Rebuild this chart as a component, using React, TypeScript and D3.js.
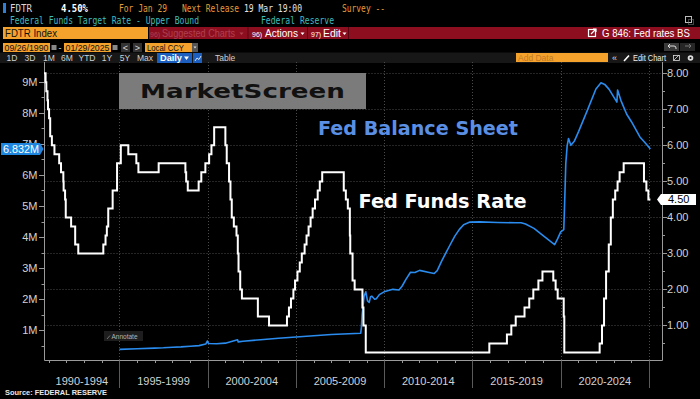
import React from "react";
import * as d3 from "d3";

// ---------- DATA ----------
const rateDates = [
  "1990-09-26","1990-10-29","1990-11-13","1990-12-07","1990-12-18","1991-01-09","1991-02-01","1991-03-08",
  "1991-04-30","1991-08-06","1991-09-13","1991-10-31","1991-11-06","1991-12-06","1991-12-20","1992-04-09",
  "1992-07-02","1992-09-04","1994-02-04","1994-03-22","1994-04-18","1994-05-17","1994-08-16","1994-11-15",
  "1995-02-01","1995-07-06","1995-12-19","1996-01-31","1997-03-25","1998-09-29","1998-10-15","1998-11-17",
  "1999-06-30","1999-08-24","1999-11-16","2000-02-02","2000-03-21","2000-05-16","2001-01-03","2001-01-31",
  "2001-03-20","2001-04-18","2001-05-15","2001-06-27","2001-08-21","2001-09-17","2001-10-02","2001-11-06",
  "2001-12-11","2002-11-06","2003-06-25","2004-06-30","2004-08-10","2004-09-21","2004-11-10","2004-12-14",
  "2005-02-02","2005-03-22","2005-05-03","2005-06-30","2005-08-09","2005-09-20","2005-11-01","2005-12-13",
  "2006-01-31","2006-03-28","2006-05-10","2006-06-29","2007-09-18","2007-10-31","2007-12-11","2008-01-22",
  "2008-01-30","2008-03-18","2008-04-30","2008-10-08","2008-10-29","2008-12-16","2015-12-16","2016-12-14",
  "2017-03-15","2017-06-14","2017-12-13","2018-03-21","2018-06-13","2018-09-26","2018-12-19","2019-07-31",
  "2019-09-18","2019-10-30","2020-03-03","2020-03-15","2022-03-16","2022-05-04","2022-06-15","2022-07-27",
  "2022-09-21","2022-11-02","2022-12-14","2023-02-01","2023-03-22","2023-05-03","2023-07-26","2024-09-18",
  "2024-11-07","2024-12-18","2025-01-29",
];
const rateValues = [
  8.0,7.75,7.5,7.25,7.0,6.75,6.25,6.0,
  5.75,5.5,5.25,5.0,4.75,4.5,4.0,3.75,
  3.25,3.0,3.25,3.5,3.75,4.25,4.75,5.5,
  6.0,5.75,5.5,5.25,5.5,5.25,5.0,4.75,
  5.0,5.25,5.5,5.75,6.0,6.5,6.0,5.5,
  5.0,4.5,4.0,3.75,3.5,3.0,2.5,2.0,
  1.75,1.25,1.0,1.25,1.5,1.75,2.0,2.25,
  2.5,2.75,3.0,3.25,3.5,3.75,4.0,4.25,
  4.5,4.75,5.0,5.25,4.75,4.5,4.25,3.5,
  3.0,2.25,2.0,1.5,1.0,0.25,0.5,0.75,
  1.0,1.25,1.5,1.75,2.0,2.25,2.5,2.25,
  2.0,1.75,1.25,0.25,0.5,1.0,1.75,2.5,
  3.25,4.0,4.5,4.75,5.0,5.25,5.5,5.0,
  4.75,4.5,4.5,
];

// Fed balance sheet, millions of millions (i.e. "M" on the left axis)
const bsDates = [
  "1995-01-04","1996-01-03","1997-01-01","1997-07-01","1998-01-07","1998-07-01","1999-01-06","1999-07-07",
  "1999-11-24","1999-12-29","2000-01-19","2000-07-05","2001-01-03","2001-09-12","2001-09-26","2002-01-02",
  "2003-01-01","2004-01-07","2005-01-05","2006-01-04","2007-01-03","2008-01-02","2008-09-03","2008-09-17",
  "2008-10-01","2008-10-22","2008-11-12","2008-12-17","2009-01-21","2009-02-25","2009-03-25","2009-04-22",
  "2009-05-20","2009-06-17","2009-07-22","2009-09-23","2009-12-30","2010-06-30","2010-11-03","2011-01-05",
  "2011-03-30","2011-06-29","2011-09-28","2012-01-04","2012-06-27","2012-10-31","2013-01-02","2013-04-03",
  "2013-07-03","2013-10-02","2014-01-01","2014-04-02","2014-07-02","2014-10-29","2015-06-03","2016-06-01",
  "2017-06-07","2017-10-04","2018-01-03","2018-06-27","2019-01-02","2019-05-01","2019-08-28","2019-10-30",
  "2020-01-01","2020-03-04","2020-03-25","2020-04-15","2020-05-13","2020-06-10","2020-07-29","2020-10-07",
  "2021-01-06","2021-06-30","2021-12-29","2022-04-13","2022-06-29","2022-09-28","2023-03-08","2023-03-22",
  "2023-05-31","2023-09-27","2024-01-03","2024-06-26","2024-10-02","2025-01-29",
];
const bsValues = [
  0.39,0.41,0.43,0.44,0.46,0.47,0.49,0.51,
  0.56,0.66,0.58,0.57,0.59,0.70,0.63,0.65,
  0.70,0.75,0.79,0.83,0.87,0.89,0.91,1.10,
  1.50,1.80,2.10,2.24,1.95,1.90,2.08,2.10,
  2.05,2.00,2.02,2.15,2.24,2.32,2.30,2.42,
  2.65,2.87,2.86,2.93,2.87,2.83,2.92,3.23,
  3.50,3.77,4.03,4.24,4.40,4.48,4.49,4.47,
  4.46,4.46,4.42,4.28,4.05,3.90,3.76,3.95,
  4.17,4.24,5.25,6.37,6.93,7.17,6.95,7.08,
  7.40,8.06,8.76,8.96,8.91,8.75,8.34,8.73,
  8.39,7.95,7.71,7.22,7.05,6.832,
];

const leftTicks = [1, 2, 3, 4, 5, 6, 7, 8, 9];
const leftTickLabels = ["1M", "2M", "3M", "4M", "5M", "6M", "7M", "8M", "9M"];
const rightTicks = [1, 2, 3, 4, 5, 6, 7, 8];
const rightTickLabels = ["1.00", "2.00", "3.00", "4.00", "5.00", "6.00", "7.00", "8.00"];
const periodStarts = ["1990-09-26", "1995-01-01", "2000-01-01", "2005-01-01", "2010-01-01", "2015-01-01", "2020-01-01", "2025-01-01"];
const periodLabels = ["1990-1994", "1995-1999", "2000-2004", "2005-2009", "2010-2014", "2015-2019", "2020-2024"];
const startDate = "1990-09-26";
const endDate = "2025-01-29";
const lastBS = "6.832M";
const lastRate = "4.50";

// ---------- LAYOUT ----------
const W = 700, H = 399;
const PL = 44.5, PR = 662.5, PT = 62, PB = 360.5;
const parse = d3.utcParse("%Y-%m-%d");

const SANS = "'Liberation Sans', Arial, sans-serif";
const MONO = "'DejaVu Sans Mono', monospace";
const ORANGE = "#f4a22b";
const TXT_OR = "#e59a3a";
const TEAL = "#3fbcbf";

export default function App() {
  const x = d3.scaleUtc().domain([parse(startDate)!, parse(endDate)!]).range([44, 650.4]);
  const yL = d3.scaleLinear().domain([0, 9]).range([361.5, 81.6]);
  const yR = d3.scaleLinear().domain([0, 8]).range([361.5, 73.3]);

  const rateData = rateDates.map((d, i) => ({ d: parse(d)!, v: rateValues[i] }));
  const bsData = bsDates.map((d, i) => ({ d: parse(d)!, v: bsValues[i] }));

  const rateLine = d3.line<{ d: Date; v: number }>().x(p => x(p.d)).y(p => yR(p.v)).curve(d3.curveStepAfter);
  const bsLine = d3.line<{ d: Date; v: number }>().x(p => x(p.d)).y(p => yL(p.v));

  const years = d3.utcYear.range(parse("1991-01-01")!, parse("2025-06-01")!);
  const fiveYears = periodStarts.slice(1).map(s => x(parse(s)!));
  const bandEdges = periodStarts.map(s => Math.max(PL, x(parse(s)!)));

  const minorL = d3.range(0.5, 9.01, 0.5);
  const minorR = d3.range(0.5, 8.01, 0.5);

  const yBS = yL(6.832);
  const yRate = yR(4.5);

  return (
    <svg width={W} height={H} style={{ position: "absolute", left: 0, top: 0, background: "#000" }} xmlns="http://www.w3.org/2000/svg">
      <rect x={0} y={0} width={W} height={H} fill="#000" />

      {/* ---------- Header row 1 ---------- */}
      <rect x={3} y={3} width={3} height={10} fill="#2f7fd6" />
      <g fontFamily={MONO} fontSize={10.5}>
        <text x={10} y={12} fill="#d8d8d8" textLength={22} lengthAdjust="spacingAndGlyphs">FDTR</text>
        <text x={61} y={12} fill="#fff" fontWeight="bold" textLength={27} lengthAdjust="spacingAndGlyphs">4.50%</text>
        <text x={119} y={12} fill={TXT_OR} textLength={48} lengthAdjust="spacingAndGlyphs">For Jan 29</text>
        <text x={182} y={12} fill={TXT_OR} textLength={57} lengthAdjust="spacingAndGlyphs">Next Release</text>
        <text x={244} y={12} fill="#e4e4e4" textLength={58} lengthAdjust="spacingAndGlyphs">19 Mar 19:00</text>
        <text x={342} y={12} fill={TXT_OR} textLength={43} lengthAdjust="spacingAndGlyphs">Survey --</text>
        {/* Row 2 */}
        <text x={10} y={24} fill={TEAL} textLength={189} lengthAdjust="spacingAndGlyphs">Federal Funds Target Rate - Upper Bound</text>
        <text x={261} y={24} fill={TEAL} textLength={73} lengthAdjust="spacingAndGlyphs">Federal Reserve</text>
      </g>
      {/* small icon top right */}
      <rect x={685.5} y={16.5} width={6} height={6} fill="none" stroke="#bbb" strokeWidth={1} />
      <rect x={688.5} y={19.5} width={5} height={5} fill="none" stroke="#888" strokeWidth={1} strokeDasharray="1,1" />

      {/* ---------- Header row 3 ---------- */}
      <rect x={3} y={27} width={145} height={12} fill={ORANGE} />
      <text x={5} y={37} fontFamily={SANS} fontSize={11} fill="#111" textLength={52} lengthAdjust="spacingAndGlyphs">FDTR Index</text>
      <rect x={149} y={27} width={551} height={12} fill="#8d0f1f" />
      <line x1={248} y1={27} x2={248} y2={39} stroke="#5a0610" />
      <line x1={307.5} y1={27} x2={307.5} y2={39} stroke="#5a0610" />
      <line x1={348.5} y1={27} x2={348.5} y2={39} stroke="#5a0610" />
      <g fontFamily={SANS} fontSize={10}>
        <text x={150} y={37} fill="#b0404f" fontSize={7}>96)</text>
        <text x={162} y={37} fill="#b0404f" textLength={73} lengthAdjust="spacingAndGlyphs">Suggested Charts</text>
        <path d="M239.5,32.5 L243.5,32.5 L241.5,35 Z" fill="#b0404f" />
        <text x={252} y={37} fill="#fff" fontSize={7}>96)</text>
        <text x={265} y={37} fill="#fff" textLength={33} lengthAdjust="spacingAndGlyphs">Actions</text>
        <path d="M300.5,32.5 L304.5,32.5 L302.5,35 Z" fill="#fff" />
        <text x={311} y={37} fill="#fff" fontSize={7}>97)</text>
        <text x={323} y={37} fill="#fff" textLength={18} lengthAdjust="spacingAndGlyphs">Edit</text>
        <path d="M342.5,32.5 L346.5,32.5 L344.5,35 Z" fill="#fff" />
        <text x={602} y={37} fill="#fff" textLength={88} lengthAdjust="spacingAndGlyphs">G 846: Fed rates BS</text>
      </g>
      <rect x={588.5} y={29.5} width={7} height={7} fill="none" stroke="#fff" strokeWidth={1.2} />
      <path d="M591,34 L596,29 M593,29 L596,29 L596,32" stroke="#fff" strokeWidth={1.2} fill="none" />

      {/* ---------- Header row 4 ---------- */}
      <g fontFamily={SANS} fontSize={9}>
        <rect x={3} y={43} width={47} height={9} fill={ORANGE} />
        <text x={4.5} y={50.5} fill="#111" textLength={44} lengthAdjust="spacingAndGlyphs">09/26/1990</text>
        <rect x={51.5} y={45} width={5} height={5} fill="#888" />
        <text x={58.5} y={50.5} fill="#ddd">-</text>
        <rect x={64} y={43} width={47} height={9} fill={ORANGE} />
        <text x={65.5} y={50.5} fill="#111" textLength={44} lengthAdjust="spacingAndGlyphs">01/29/2025</text>
        <rect x={112.5} y={45} width={5} height={5} fill="#888" />
        <rect x={121} y={43} width={9} height={9} fill="#333" />
        <text x={125.5} y={50.5} fill="#ddd" textAnchor="middle">&lt;</text>
        <rect x={133} y={43} width={9} height={9} fill="#333" />
        <text x={137.5} y={50.5} fill="#ddd" textAnchor="middle">&gt;</text>
        <rect x={145} y={43} width={47} height={9} fill={ORANGE} />
        <text x={147} y={50.5} fill="#111" textLength={37} lengthAdjust="spacingAndGlyphs">Local CCY</text>
        <rect x={192} y={43} width={6} height={9} fill="#555" />
        <path d="M193.5,46.5 L196.5,46.5 L195,48.5 Z" fill="#ddd" />
      </g>
      <rect x={664} y={43} width={15} height={8} fill="#3a3a3a" />
      <rect x={680} y={43} width={15} height={8} fill="#262626" />
      <path d="M668,46 L674,46 Q676,46 676,48 L676,49 M668,46 L670,44 M668,46 L670,48" stroke="#ddd" fill="none" strokeWidth={1} />
      <path d="M691,46 L685,46 M691,46 L689,44 M691,46 L689,48" stroke="#777" fill="none" strokeWidth={1} />

      {/* ---------- Header row 5 ---------- */}
      <rect x={0} y={52.5} width={W} height={10.5} fill="#171717" />
      <g fontFamily={SANS} fontSize={8.5} fill="#cfcfcf" textAnchor="middle">
        {[["1D", 12], ["3D", 30], ["1M", 49], ["6M", 67], ["YTD", 87], ["1Y", 107], ["5Y", 125], ["Max", 145]].map(([t, cx]) => (
          <text key={t as string} x={cx as number} y={60.5}>{t}</text>
        ))}
      </g>
      <rect x={157} y={53} width={35} height={10} fill="#1c5fbf" />
      <text x={160} y={60.8} fontFamily={SANS} fontSize={8.5} fill="#fff" fontWeight="bold" textLength={22} lengthAdjust="spacingAndGlyphs">Daily</text>
      <path d="M184,56.5 L189,56.5 L186.5,60 Z" fill="#fff" />
      <rect x={193} y={53} width={9} height={10} fill="#1c5fbf" />
      <path d="M195,61 L197,58 L199,59.5 L201,56" stroke="#fff" fill="none" strokeWidth={0.8} />
      <text x={215} y={60.8} fontFamily={SANS} fontSize={8.5} fill="#cfcfcf">Table</text>
      <rect x={516} y={53} width={92} height={9} fill={ORANGE} />
      <text x={518} y={60.5} fontFamily={SANS} fontSize={8.5} fill="#c07a28">Add Data</text>
      <text x={612} y={60.8} fontFamily={SANS} fontSize={9} fill="#ddd">«</text>
      <path d="M624,61 L629,55.5" stroke="#fff" strokeWidth={1.6} />
      <text x={633} y={60.8} fontFamily={SANS} fontSize={9} fill="#eee" textLength={33} lengthAdjust="spacingAndGlyphs">Edit Chart</text>
      <rect x={673.5} y={55.5} width={6} height={5} fill="none" stroke="#ddd" strokeWidth={0.8} />
      <path d="M674,60 L679,55" stroke="#ddd" strokeWidth={0.8} />
      <circle cx={690.5} cy={58} r={2.8} fill="#ddd" />
      <circle cx={690.5} cy={58} r={1} fill="#171717" />

      {/* ---------- Gridlines ---------- */}
      <g stroke="#4a4a4a" strokeWidth={1} strokeDasharray="1,2">
        {rightTicks.map(t => (
          <line key={"h" + t} x1={PL} x2={PR} y1={Math.round(yR(t)) + 0.5} y2={Math.round(yR(t)) + 0.5} />
        ))}
        {fiveYears.map((fx, i) => (
          <line key={"v" + i} x1={Math.round(fx) + 0.5} x2={Math.round(fx) + 0.5} y1={PT} y2={PB} />
        ))}
      </g>

      {/* ---------- MarketScreen watermark ---------- */}
      <rect x={119} y={73} width={247} height={36} fill="#7b7b7b" />
      <text x={140} y={98} fontFamily="'DejaVu Sans', Verdana, sans-serif" fontWeight="bold" fontSize={20} fill="#111"
        textLength={205} lengthAdjust="spacingAndGlyphs">MarketScreen</text>

      {/* ---------- Axes ---------- */}
      <g stroke="#9a9a9a" strokeWidth={1}>
        <line x1={PL} x2={PL} y1={PT} y2={PB} />
        <line x1={PR} x2={PR} y1={PT} y2={PB} />
        <line x1={PL} x2={PR} y1={PB} y2={PB} />
        {leftTicks.map(t => (
          <line key={"lt" + t} x1={39} x2={PL} y1={Math.round(yL(t)) + 0.5} y2={Math.round(yL(t)) + 0.5} />
        ))}
        {minorL.map(t => (
          <line key={"lm" + t} x1={41.5} x2={PL} y1={Math.round(yL(t)) + 0.5} y2={Math.round(yL(t)) + 0.5} />
        ))}
        {rightTicks.map(t => (
          <line key={"rt" + t} x1={PR} x2={667} y1={Math.round(yR(t)) + 0.5} y2={Math.round(yR(t)) + 0.5} />
        ))}
        {minorR.map(t => (
          <line key={"rm" + t} x1={PR} x2={665} y1={Math.round(yR(t)) + 0.5} y2={Math.round(yR(t)) + 0.5} />
        ))}
        {years.map((yd, i) => (
          <line key={"yt" + i} x1={Math.round(x(yd)) + 0.5} x2={Math.round(x(yd)) + 0.5} y1={PB} y2={363} />
        ))}
      </g>
      <g stroke="#5a5a5a" strokeWidth={1}>
        {fiveYears.map((fx, i) => (
          <line key={"sep" + i} x1={Math.round(fx) + 0.5} x2={Math.round(fx) + 0.5} y1={PB} y2={388} />
        ))}
      </g>
      <g fontFamily={SANS} fontSize={11} fill="#d2d2d2">
        {leftTicks.map((t, i) => (
          <text key={"ll" + t} x={37.5} y={yL(t) + 4} textAnchor="end">{leftTickLabels[i]}</text>
        ))}
        {rightTicks.map((t, i) => (
          <text key={"rl" + t} x={667} y={yR(t) + 4}>{rightTickLabels[i]}</text>
        ))}
        {periodLabels.map((l, i) => (
          <text key={"pl" + i} x={(bandEdges[i] + bandEdges[i + 1]) / 2} y={384.5} textAnchor="middle">{l}</text>
        ))}
      </g>

      {/* ---------- Annotate button ---------- */}
      <rect x={104} y={331} width={39} height={10} fill="#1e1e1e" />
      <path d="M107,339 L110,335.5" stroke="#888" strokeWidth={0.8} />
      <text x={111.5} y={338.8} fontFamily={SANS} fontSize={6.5} fill="#b5b5b5">Annotate</text>

      {/* ---------- Series ---------- */}
      <path d={bsLine(bsData) || ""} fill="none" stroke="#2a8cee" strokeWidth={1.6} strokeLinejoin="round" />
      <path d={rateLine(rateData) || ""} fill="none" stroke="#ffffff" strokeWidth={2} />

      {/* ---------- Series labels ---------- */}
      <text x={318} y={135} fontFamily="'DejaVu Sans', Verdana, sans-serif" fontWeight="bold" fontSize={20} fill="#5a8fe4"
        textLength={200} lengthAdjust="spacingAndGlyphs">Fed Balance Sheet</text>
      <text x={358.5} y={207.5} fontFamily="'DejaVu Sans', Verdana, sans-serif" fontWeight="bold" fontSize={20} fill="#ffffff"
        textLength={168} lengthAdjust="spacingAndGlyphs">Fed Funds Rate</text>

      {/* ---------- Last value tags ---------- */}
      <path d={`M1,${yBS - 6} L40,${yBS - 6} L43.5,${yBS} L40,${yBS + 6} L1,${yBS + 6} Z`} fill="#1f86e0" />
      <text x={3} y={yBS + 4} fontFamily={SANS} fontSize={11} fill="#fff" textLength={36} lengthAdjust="spacingAndGlyphs">{lastBS}</text>
      <path d={`M657,${yRate} L661,${yRate - 5.5} L696,${yRate - 5.5} L696,${yRate + 5.5} L661,${yRate + 5.5} Z`} fill="#fff" />
      <text x={668} y={yRate + 4} fontFamily={SANS} fontSize={11} fill="#000">{lastRate}</text>

      {/* ---------- Source ---------- */}
      <text x={5} y={395} fontFamily={SANS} fontSize={8} fontWeight="bold" fill="#e8e8e8" textLength={102} lengthAdjust="spacingAndGlyphs">
        Source: FEDERAL RESERVE
      </text>
    </svg>
  );
}
